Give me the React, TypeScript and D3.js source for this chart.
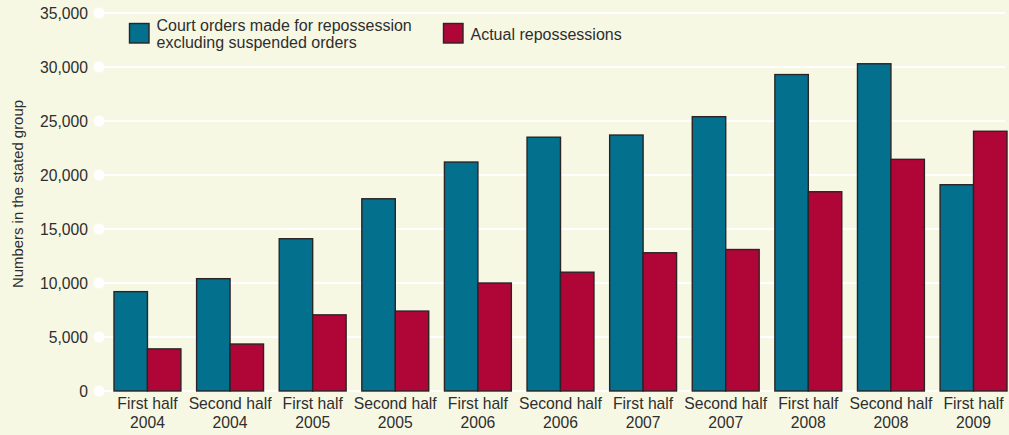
import React from "react";
import * as d3 from "d3";

const categories = [
  ["First half", "2004"],
  ["Second half", "2004"],
  ["First half", "2005"],
  ["Second half", "2005"],
  ["First half", "2006"],
  ["Second half", "2006"],
  ["First half", "2007"],
  ["Second half", "2007"],
  ["First half", "2008"],
  ["Second half", "2008"],
  ["First half", "2009"],
];
const courtOrders = [9200, 10400, 14100, 17800, 21200, 23500, 23700, 25400, 29300, 30300, 19100];
const repossessions = [3900, 4350, 7050, 7400, 10000, 11000, 12800, 13100, 18450, 21450, 24050];
const yTicks = [0, 5000, 10000, 15000, 20000, 25000, 30000, 35000];
const seriesNames = ["Court orders made for repossession|excluding suspended orders", "Actual repossessions"];

const W = 1009;
const H = 435;
const BG = "#f7f8e4";
const BLUE = "#03708e";
const RED = "#b00537";
const STROKE = "#2b2326";
const TEXT = "#2e2e2e";
const FONT = "'Liberation Sans', Arial, Helvetica, sans-serif";
const FS = 15.7;

export default function App() {
  const y = d3.scaleLinear().domain([0, 35000]).range([391, 13]);
  const x0 = d3
    .scaleBand<number>()
    .domain(categories.map((_, i) => i))
    .range([106.15, 1014.85])
    .paddingInner(0.19)
    .paddingOuter(0.095);
  const x1 = d3.scaleBand<number>().domain([0, 1]).range([0, x0.bandwidth()]);
  const series = [courtOrders, repossessions];
  const colors = [BLUE, RED];
  const fmt = d3.format(",");

  return (
    <svg
      width={W}
      height={H}
      style={{ position: "absolute", left: 0, top: 0, background: BG }}
      fontFamily={FONT}
    >
      <rect x={0} y={0} width={W} height={H} fill={BG} />
      {yTicks.map((t) => (
        <g key={t}>
          <line x1={99} x2={1005} y1={y(t)} y2={y(t)} stroke="#ffffff" strokeWidth={2.2} />
          <circle cx={99} cy={y(t)} r={5.5} fill="#ffffff" />
          <text x={88} y={y(t)} dy="0.36em" textAnchor="end" fontSize={FS} fill={TEXT}>
            {fmt(t)}
          </text>
        </g>
      ))}
      <text
        transform={`translate(23,${194}) rotate(-90)`}
        textAnchor="middle"
        fontSize={14.9}
        fill={TEXT}
      >
        Numbers in the stated group
      </text>
      {categories.map((c, i) => (
        <g key={i} transform={`translate(${x0(i)},0)`}>
          {series.map((s, j) => (
            <rect
              key={j}
              x={x1(j)!}
              y={y(s[i])}
              width={x1.bandwidth()}
              height={y(0) - y(s[i])}
              fill={colors[j]}
              stroke={STROKE}
              strokeWidth={1.4}
            />
          ))}
          <text x={x0.bandwidth() / 2} y={409} textAnchor="middle" fontSize={FS} fill={TEXT}>
            {c[0]}
          </text>
          <text x={x0.bandwidth() / 2} y={427.5} textAnchor="middle" fontSize={FS} fill={TEXT}>
            {c[1]}
          </text>
        </g>
      ))}
      <g>
        <rect x={129.5} y={23.5} width={19.5} height={19.5} fill={BLUE} stroke={STROKE} strokeWidth={1.4} />
        {seriesNames[0].split("|").map((l, k) => (
          <text key={k} x={156.5} y={31 + k * 17} fontSize={16} fill={TEXT}>
            {l}
          </text>
        ))}
        <rect x={443.5} y={23.5} width={19.5} height={19.5} fill={RED} stroke={STROKE} strokeWidth={1.4} />
        <text x={470.5} y={39.5} fontSize={16} fill={TEXT}>
          {seriesNames[1]}
        </text>
      </g>
    </svg>
  );
}
